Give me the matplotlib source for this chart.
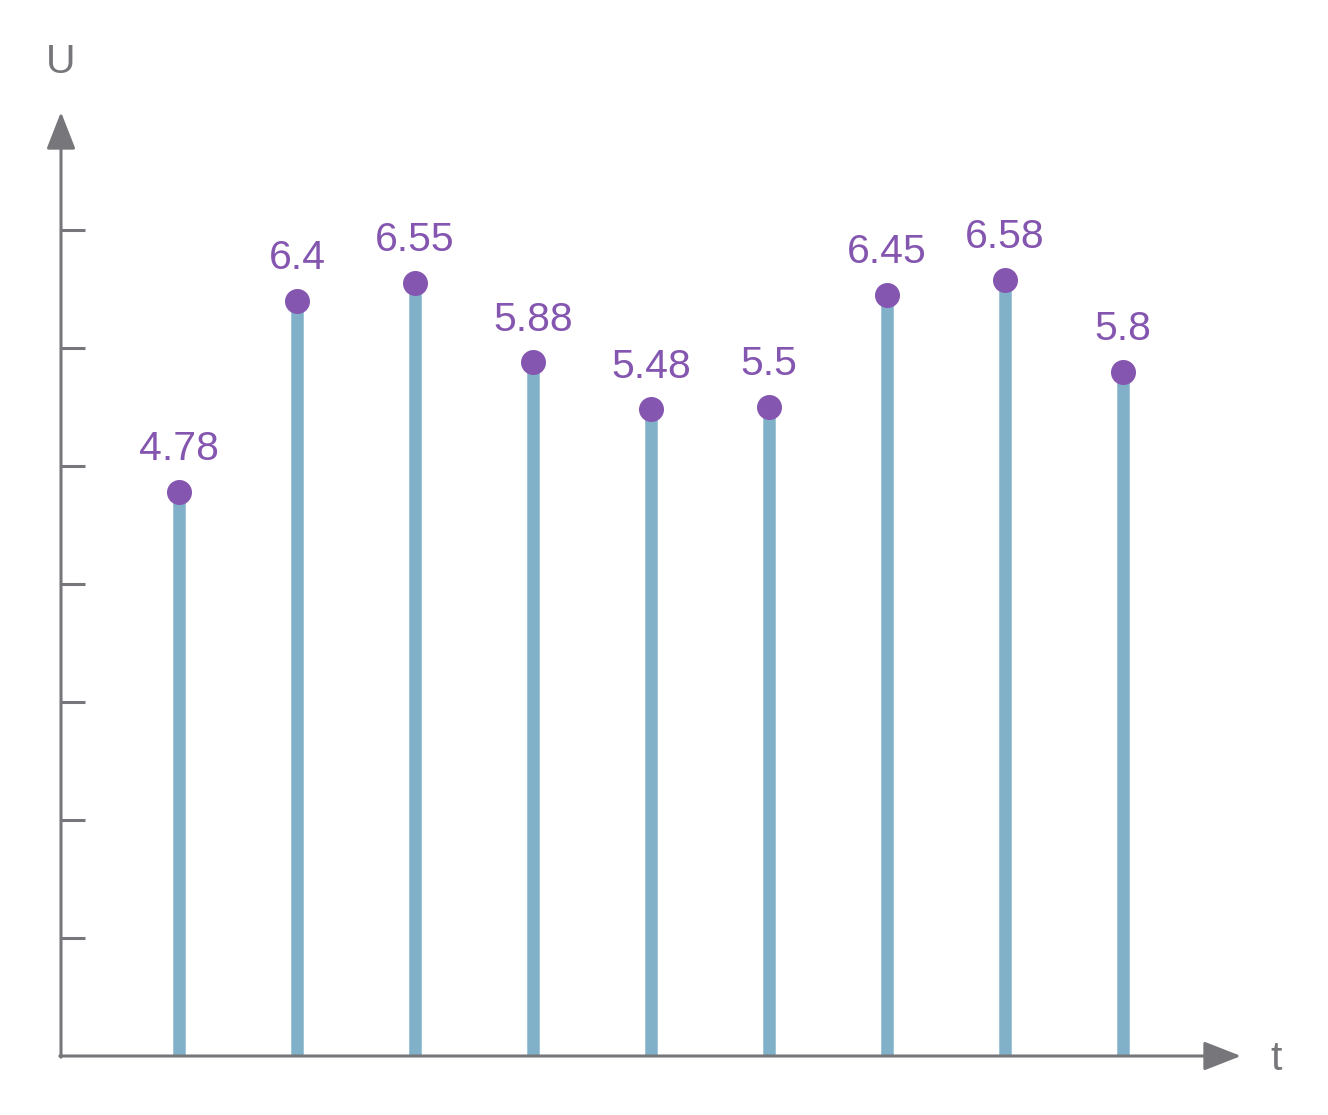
import numpy as np
from matplotlib import pyplot as plt

# data
t = [1, 2, 3, 4, 5, 6, 7, 8, 9]
u = [4.78, 6.4, 6.55, 5.88, 5.48, 5.5, 6.45, 6.58, 5.8]
u_labels = ["4.78", "6.4", "6.55", "5.88", "5.48", "5.5", "6.45", "6.58", "5.8"]
y_ticks = [1, 2, 3, 4, 5, 6, 7]

axis_col = "#77777b"
stem_col = "#80b1c8"
dot_col = "#8456b0"

plt.rcParams['font.family'] = ['Liberation Sans', 'DejaVu Sans']

W, H = 1328, 1115
fig = plt.figure(figsize=(W / 100, H / 100), dpi=100)
# axes placed in pixels: origin at (61, 1056), 118 px per unit
ax = fig.add_axes([61 / W, (H - 1056) / H, 1180 / W, 944 / H])
ax.set_xlim(0, 10)
ax.set_ylim(0, 8)
ax.axis('off')

# stems and dots
ax.vlines(t, 0, u, colors=stem_col, linewidth=9, zorder=2)
ax.scatter(t, u, s=18 ** 2, color=dot_col, zorder=3, linewidths=0)
for x, y, lab in zip(t, u, u_labels):
    ax.annotate(lab, (x, y), xytext=(0, 17), textcoords='offset points',
                ha='center', va='bottom', fontsize=29.5, color=dot_col)

# axes with arrows
arrow = dict(arrowstyle='-|>,head_length=23,head_width=9', mutation_scale=1,
             lw=2.2, color=axis_col, shrinkA=0, shrinkB=0)
ax.annotate('', xy=(0, 8), xytext=(0, -0.01), arrowprops=arrow, annotation_clip=False)
ax.annotate('', xy=(10, 0), xytext=(-0.01, 0), arrowprops=arrow, annotation_clip=False)

# tick marks
ax.hlines(y_ticks, 0, 0.2, colors=axis_col, linewidth=2.2, zorder=1)

# axis names
ax.text(0, 8.33, "U", ha='center', va='baseline', fontsize=29.5, color=axis_col, clip_on=False)
ax.text(10.3, -0.12, "t", ha='center', va='baseline', fontsize=29.5, color=axis_col, clip_on=False)

plt.savefig("out.png", dpi=100)
